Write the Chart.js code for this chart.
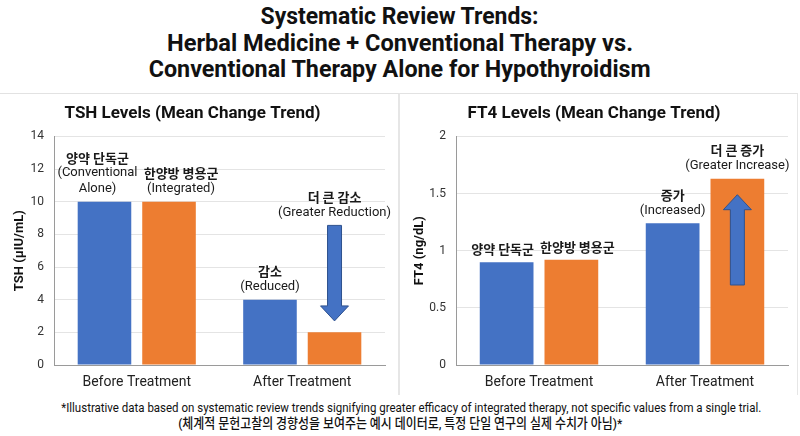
<!DOCTYPE html>
<html>
<head>
<meta charset="utf-8">
<script src="https://cdn.jsdelivr.net/npm/chart.js@4.4.1/dist/chart.umd.min.js"></script>
<style>
  body { margin: 0; width: 800px; height: 436px; background: #fff; position: relative; overflow: hidden; font-family: Roboto, "Noto Sans CJK KR", sans-serif; }
  #title { position: absolute; left: 0; top: 3px; width: 800px; text-align: center; font-family: Roboto, sans-serif; font-weight: bold; font-size: 24px; line-height: 26.5px; color: #111; }
  .panel { position: absolute; top: 93px; height: 302px; border-top: 1px solid #e2e2e2; box-sizing: border-box; }
  #leftPanel { left: 0; width: 400px; border-right: 2px solid #e6e6e6; }
  #rightPanel { left: 400px; width: 398px; border-right: 1px solid #e6e6e6; }
  #note { position: absolute; left: 0; top: 399px; width: 800px; text-align: center; font-family: Roboto, "Noto Sans CJK KR", sans-serif; font-size: 13.5px; line-height: 16px; color: #111; white-space: nowrap; }
  #note .kr { font-weight: 500; }
  .fit { display: inline-block; white-space: nowrap; transform-origin: center; }
</style>
</head>
<body>
<div id="title"><span class="fit" data-w="278">Systematic Review Trends:</span><br><span class="fit" data-w="466">Herbal Medicine + Conventional Therapy vs.</span><br><span class="fit" data-w="502">Conventional Therapy Alone for Hypothyroidism</span></div>
<div class="panel" id="leftPanel"><canvas id="tshChart"></canvas></div>
<div class="panel" id="rightPanel"><canvas id="ft4Chart"></canvas></div>
<div id="note"><span class="fit" data-w="700">*Illustrative data based on systematic review trends signifying greater efficacy of integrated therapy, not specific values from a single trial.</span><br><span class="fit kr" data-w="444">(체계적 문헌고찰의 경향성을 보여주는 예시 데이터로, 특정 단일 연구의 실제 수치가 아님)*</span></div>
<script>
// data
const categories = ['Before Treatment', 'After Treatment'];
const seriesNames = ['양약 단독군 (Conventional Alone)', '한양방 병용군 (Integrated)'];
const tshConventional = [10, 4];
const tshIntegrated = [10, 2];
const ft4Conventional = [0.9, 1.24];
const ft4Integrated = [0.92, 1.63];
const tshTicks = [0, 2, 4, 6, 8, 10, 12, 14];
const ft4Ticks = [0, 0.5, 1, 1.5, 2];

// bar annotations: [dataset, index, lines, horizontal nudge]
const tshNotes = [
    [0, 0, ['양약 단독군', '(Conventional', 'Alone)'], -7],
    [1, 0, ['한양방 병용군', '(Integrated)'], 12],
    [0, 1, ['감소', '(Reduced)'], 0],
    [1, 1, ['더 큰 감소', '(Greater Reduction)'], 0]
];
const ft4Notes = [
    [0, 0, ['양약 단독군'], -4],
    [1, 0, ['한양방 병용군'], 6],
    [0, 1, ['증가', '(Increased)'], 0],
    [1, 1, ['더 큰 증가', '(Greater Increase)'], 0]
];
// arrows drawn on the integrated "after" bar, in axis units
const tshArrow = { from: 8.55, to: 2.7 };
const ft4Arrow = { from: 0.7, to: 1.49 };

const blue = '#4472c4';
const orange = '#ed7d31';

// squeeze text lines to the widths they have in the reference
document.querySelectorAll('.fit').forEach(el => {
    el.style.transform = 'scaleX(' + (el.dataset.w / el.getBoundingClientRect().width) + ')';
});

const notesPlugin = {
    id: 'notes',
    afterDatasetsDraw(chart, args, opts) {
        const ctx = chart.ctx;
        const y = chart.scales.y;
        const arrow = opts.arrow;
        const bar = chart.getDatasetMeta(1).data[1];
        const ax = bar.x;
        const y0 = y.getPixelForValue(arrow.from);
        const y1 = y.getPixelForValue(arrow.to);
        const dir = y1 > y0 ? 1 : -1;
        const head = 15, shaft = 7, wing = 14;
        ctx.save();
        ctx.beginPath();
        ctx.moveTo(ax - shaft, y0);
        ctx.lineTo(ax + shaft, y0);
        ctx.lineTo(ax + shaft, y1 - dir * head);
        ctx.lineTo(ax + wing, y1 - dir * head);
        ctx.lineTo(ax, y1);
        ctx.lineTo(ax - wing, y1 - dir * head);
        ctx.lineTo(ax - shaft, y1 - dir * head);
        ctx.closePath();
        ctx.fillStyle = blue;
        ctx.fill();
        ctx.strokeStyle = '#2f528f';
        ctx.lineWidth = 1;
        ctx.stroke();

        ctx.textAlign = 'center';
        ctx.textBaseline = 'middle';
        opts.items.forEach(([ds, i, lines, dx]) => {
            const el = chart.getDatasetMeta(ds).data[i];
            let bottom = el.y;
            if (ds === 1 && i === 1 && dir > 0) bottom = Math.min(bottom, y0);
            let ty = bottom - 13 - (lines.length - 1) * 15.5;
            lines.forEach(line => {
                const korean = /[\uac00-\ud7a3]/.test(line);
                ctx.font = korean ? 'bold 13px "Noto Sans CJK KR"' : '13px Roboto';
                ctx.fillStyle = '#1a1a1a';
                ctx.fillText(line, el.x + dx, ty);
                ty += 15.5;
            });
        });
        ctx.restore();
    }
};

function makeChart(id, first, second, ticks, yTitle, notes, arrow, leftWidth, rightPad) {
    return new Chart(document.getElementById(id), {
        type: 'bar',
        data: {
            labels: categories,
            datasets: [
                { label: seriesNames[0], data: first, backgroundColor: blue },
                { label: seriesNames[1], data: second, backgroundColor: orange }
            ]
        },
        options: {
            responsive: true,
            maintainAspectRatio: false,
            animation: false,
            categoryPercentage: 0.78,
            barPercentage: 0.83,
            layout: { padding: { left: 0, right: rightPad, top: 0, bottom: 0 } },
            plugins: {
                legend: { display: false },
                tooltip: { enabled: false },
                title: {
                    display: true,
                    text: id === 'tshChart' ? 'TSH Levels (Mean Change Trend)' : 'FT4 Levels (Mean Change Trend)',
                    font: { family: 'Roboto', size: 17, weight: 'bold' },
                    color: '#111',
                    padding: { top: 10, bottom: 12 }
                },
                notes: { items: notes, arrow: arrow }
            },
            scales: {
                x: {
                    grid: { display: false },
                    border: { color: '#9a9a9a' },
                    ticks: { color: '#222', font: { family: 'Roboto', size: 14 }, padding: 1 },
                    afterFit(scale) { scale.height = 30; }
                },
                y: {
                    min: ticks[0],
                    max: ticks[ticks.length - 1],
                    afterBuildTicks(scale) { scale.ticks = ticks.map(v => ({ value: v })); },
                    grid: { color: '#e4e4e4', drawTicks: false },
                    border: { color: '#9a9a9a' },
                    ticks: { color: '#333', font: { family: 'Roboto', size: 12 }, padding: 10, callback: v => String(v) },
                    title: { display: true, text: yTitle, color: '#111', font: { family: 'Roboto', size: 13, weight: 'bold' }, padding: { top: 12, bottom: 0 } },
                    afterFit(scale) { scale.width = leftWidth; }
                }
            }
        },
        plugins: [notesPlugin]
    });
}

makeChart('tshChart', tshConventional, tshIntegrated, tshTicks, 'TSH (µIU/mL)', tshNotes, tshArrow, 54, 13);
makeChart('ft4Chart', ft4Conventional, ft4Integrated, ft4Ticks, 'FT4 (ng/dL)', ft4Notes, ft4Arrow, 56, 9);
</script>
</body>
</html>
